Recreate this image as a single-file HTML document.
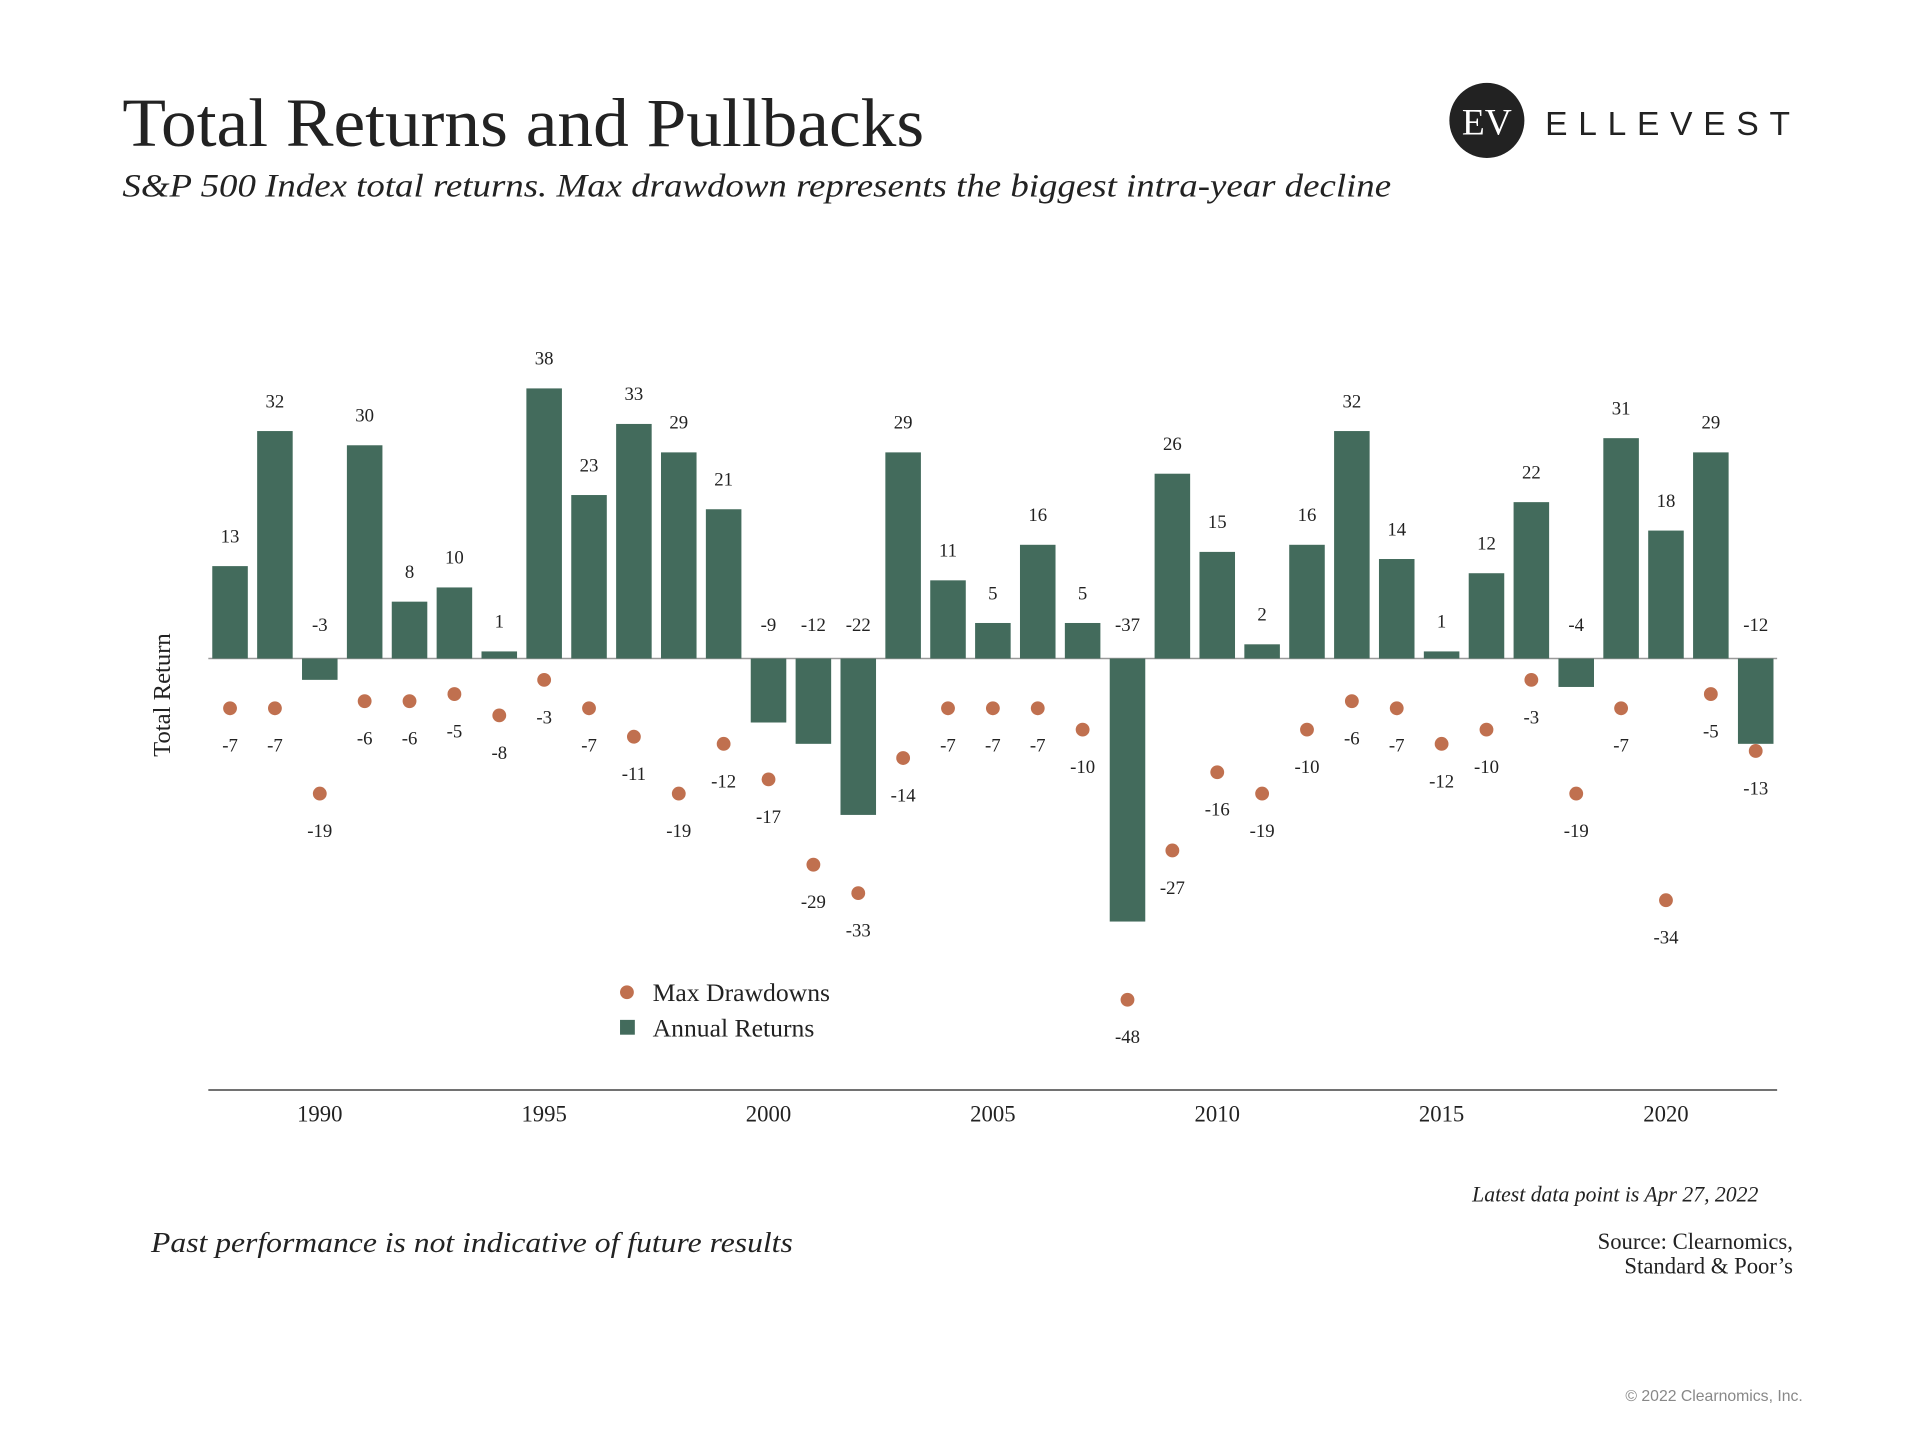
<!DOCTYPE html>
<html><head><meta charset="utf-8"><style>
html,body{margin:0;padding:0;background:#fff;width:1920px;height:1440px;overflow:hidden}
svg{display:block}
</style></head><body>
<svg id="chart" width="1920" height="1440" xmlns="http://www.w3.org/2000/svg">
<g transform="scale(0.9873)">
<text x="124" y="148" font-family="Liberation Serif, serif" font-size="70" fill="#222" textLength="812" lengthAdjust="spacingAndGlyphs">Total Returns and Pullbacks</text>
<text x="124" y="199" font-family="Liberation Serif, serif" font-style="italic" font-size="33" fill="#222" textLength="1285" lengthAdjust="spacingAndGlyphs">S&amp;P 500 Index total returns. Max drawdown represents the biggest intra-year decline</text>
<g>
<circle cx="1506" cy="122" r="38" fill="#222"/>
<text x="1506" y="136" text-anchor="middle" font-family="Liberation Serif, serif" font-size="38" fill="#fff">EV</text>
<text x="1565" y="137" font-family="Liberation Sans, sans-serif" font-size="34" fill="#222" textLength="248" lengthAdjust="spacing">ELLEVEST</text>
</g>
<line x1="211" y1="667" x2="1800" y2="667" stroke="#999" stroke-width="1.5"/>
<line x1="211" y1="1104" x2="1800" y2="1104" stroke="#444" stroke-width="1.5"/>
<text transform="translate(172,704) rotate(-90)" text-anchor="middle" font-family="Liberation Serif, serif" font-size="25" fill="#222">Total Return</text>
<g id="bars"></g><g id="dots"></g><g id="labels"></g><g id="xticks"></g>
<g>
<circle cx="635" cy="1005" r="7" fill="#c0704f"/>
<text x="661" y="1014" font-family="Liberation Serif, serif" font-size="26" fill="#222">Max Drawdowns</text>
<rect x="628" y="1033" width="15" height="15" fill="#436b5c"/>
<text x="661" y="1050" font-family="Liberation Serif, serif" font-size="26" fill="#222">Annual Returns</text>
</g>
<text x="1781" y="1217" text-anchor="end" font-family="Liberation Serif, serif" font-style="italic" font-size="22" fill="#222">Latest data point is Apr 27, 2022</text>
<text x="153" y="1268" font-family="Liberation Serif, serif" font-style="italic" font-size="29" fill="#222" textLength="650" lengthAdjust="spacingAndGlyphs">Past performance is not indicative of future results</text>
<text x="1816" y="1265" text-anchor="end" font-family="Liberation Serif, serif" font-size="23" fill="#222">Source: Clearnomics,</text>
<text x="1816" y="1290" text-anchor="end" font-family="Liberation Serif, serif" font-size="23" fill="#222">Standard &amp; Poor’s</text>
<text x="1826" y="1419" text-anchor="end" font-family="Liberation Sans, sans-serif" font-size="16" fill="#888">© 2022 Clearnomics, Inc.</text>
</g>
</svg>
<script>
const years = [1988,1989,1990,1991,1992,1993,1994,1995,1996,1997,1998,1999,2000,2001,2002,2003,2004,2005,2006,2007,2008,2009,2010,2011,2012,2013,2014,2015,2016,2017,2018,2019,2020,2021,2022];
const annualReturns = [13,32,-3,30,8,10,1,38,23,33,29,21,-9,-12,-22,29,11,5,16,5,-37,26,15,2,16,32,14,1,12,22,-4,31,18,29,-12];
const maxDrawdowns = [-7,-7,-19,-6,-6,-5,-8,-3,-7,-11,-19,-12,-17,-29,-33,-14,-7,-7,-7,-10,-48,-27,-16,-19,-10,-6,-7,-12,-10,-3,-19,-7,-34,-5,-13];
const tickYears = [1990,1995,2000,2005,2010,2015,2020];

const NS = 'http://www.w3.org/2000/svg';
const x0 = 233, step = 45.45, zeroY = 667, perUnit = 7.2, barW = 36;
function xScale(yr){ return x0 + (yr - years[0]) * step; }
function yScale(v){ return zeroY - v * perUnit; }
function mk(tag, attrs){ const e = document.createElementNS(NS, tag); for (const k in attrs) e.setAttribute(k, attrs[k]); return e; }
const font = 'Liberation Serif, serif';
const bars = document.getElementById('bars'), dots = document.getElementById('dots'), labels = document.getElementById('labels'), xt = document.getElementById('xticks');

years.forEach((yr, i) => {
  const cx = xScale(yr), v = annualReturns[i], d = maxDrawdowns[i];
  const top = Math.min(yScale(v), zeroY), h = Math.abs(yScale(v) - zeroY);
  const r = mk('rect', {x: cx - barW/2, y: top, width: barW, height: h, fill: '#436b5c'});
  
  
  bars.appendChild(r);
  const ly = v >= 0 ? yScale(v) - 24 : 639;
  const t = mk('text', {x: cx, y: ly, 'text-anchor': 'middle', 'font-family': font, 'font-size': 19, fill: '#222'});
  t.textContent = v;
  
  
  labels.appendChild(t);
  const c = mk('circle', {cx: cx, cy: yScale(d), r: 7, fill: '#c0704f'});
  
  
  dots.appendChild(c);
  const dt = mk('text', {x: cx, y: yScale(d) + 44, 'text-anchor': 'middle', 'font-family': font, 'font-size': 19, fill: '#222'});
  dt.textContent = d;
  
  
  labels.appendChild(dt);
});
tickYears.forEach(yr => {
  const t = mk('text', {x: xScale(yr), y: 1136, 'text-anchor': 'middle', 'font-family': font, 'font-size': 23, fill: '#222'});
  t.textContent = yr;
  
  
  xt.appendChild(t);
});
</script>
</body></html>
